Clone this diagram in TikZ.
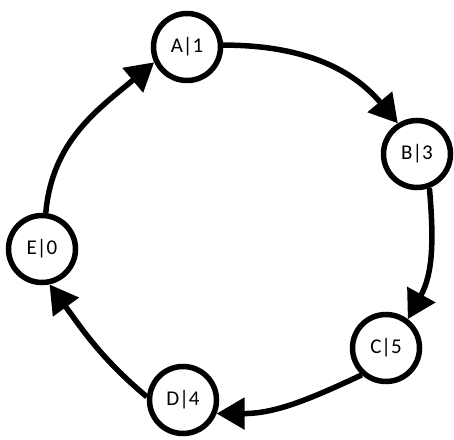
\documentclass[tikz,border=0pt]{standalone}
\usepackage{fontspec}
\newfontfamily\carlito{Carlito}
\usetikzlibrary{arrows.meta}
\begin{document}
\begin{tikzpicture}[x=1pt,y=1pt,
  state/.style={circle,draw,line width=5.5pt,minimum size=67pt,inner sep=0pt,
    font=\carlito\fontsize{21}{24}\selectfont},
  edge/.style={line width=5.5pt,-{Triangle[length=28pt,width=31pt]}}]
\useasboundingbox (0,0) rectangle (454,439);
\node[state] (A) at (187,392) {A|1};
\node[state] (B) at (417,285) {B|3};
\node[state] (C) at (386,91) {C|5};
\node[state] (D) at (183,39) {D|4};
\node[state] (E) at (42,190) {E|0};
\draw[edge] (A.3) to[out=0,in=130] (B.122);
\draw[edge] (B.-70) to[out=-85,in=61] (C.53);
\draw[edge] (C.-132) to[out=-155,in=0] (D.-22);
\draw[edge] (D.175) to[out=140,in=-54] (E.-78);
\draw[edge] (E.84) to[out=85,in=-140] (A.-155);
\end{tikzpicture}
\end{document}
